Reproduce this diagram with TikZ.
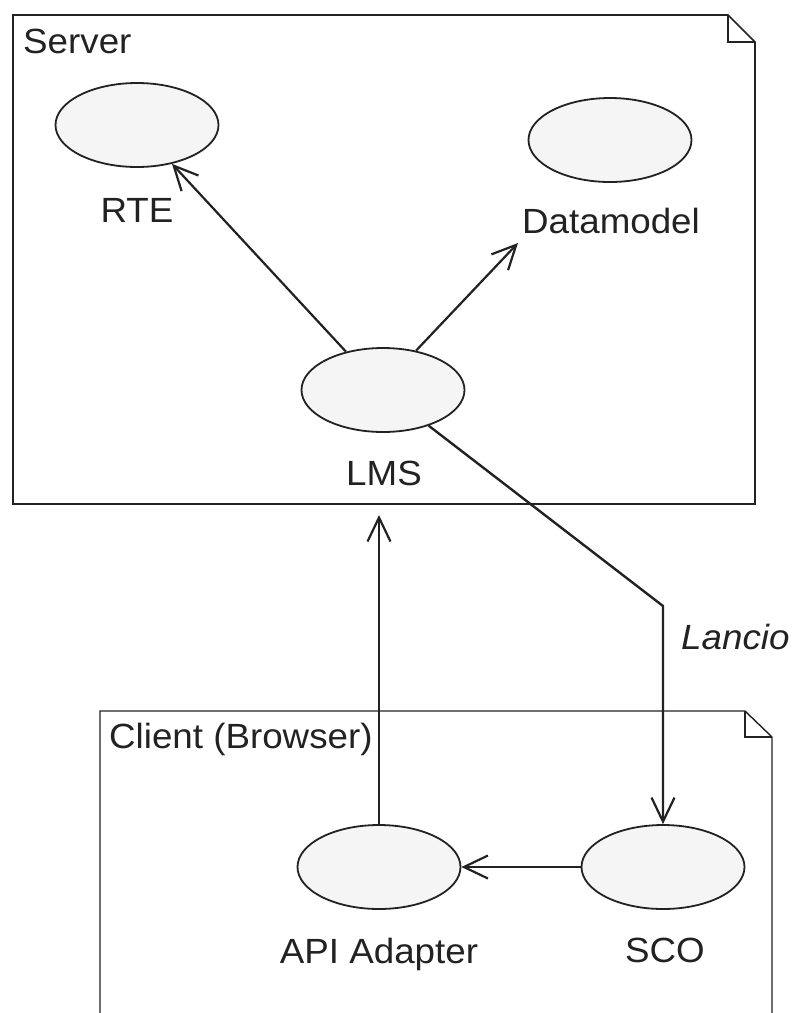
\documentclass[tikz,border=0pt]{standalone}
\usepackage{fontspec}
\setmainfont{Liberation Sans}[FakeStretch=1.05]
\usetikzlibrary{shapes.geometric,arrows.meta}

\definecolor{ink}{HTML}{222222}
\definecolor{usecase}{HTML}{F5F5F5}

\tikzset{
  pkgline/.style={draw=ink, line width=1.6pt, line join=miter},
  usecasenode/.style={ellipse, draw=ink, fill=usecase, line width=1.8pt,
    minimum width=163pt, minimum height=84pt, inner sep=0pt},
  caption/.style={text=ink, inner sep=0pt,
    font=\fontsize{35}{42}\selectfont},
  arr/.style={draw=ink, line width=2.2pt,
    -{Straight Barb[length=24pt, width=23pt, line width=2.2pt]}},
}

\begin{document}
\begin{tikzpicture}[x=1pt, y=-1pt]
  \useasboundingbox (0,0) rectangle (795,1013);

  % Server package with folded corner
  \draw[pkgline] (13,504) -- (13,15) -- (728,15) -- (755,42) -- (755,504);
  \draw[draw=ink, line width=2.8pt] (11.7,504) -- (756.3,504);
  \draw[pkgline, line width=1.3pt] (728,15) -- (728,42) -- (755,42);
  \node[caption, anchor=base west] (serverlbl) at (23,53) {Server};

  % Client package, running off the bottom edge
  \draw[pkgline, line width=1.4pt] (100,1015) -- (100,711) -- (745,711) -- (772,737) -- (772,1015);
  \draw[pkgline, line width=1.2pt] (745,711) -- (745,737) -- (772,737);
  \node[caption, anchor=base west] (clientlbl) at (109,748) {Client (Browser)};

  % Use cases
  \node[usecasenode] (rte) at (137,125) {};
  \node[caption, anchor=base] (rtelbl) at (137,222) {RTE};

  \node[usecasenode] (dm) at (610,140) {};
  \node[caption, anchor=base] (dmlbl) at (611,233) {Datamodel};

  \node[usecasenode] (lms) at (383,390) {};
  \node[caption, anchor=base] (lmslbl) at (384,485) {LMS};

  \node[usecasenode] (api) at (379,867) {};
  \node[caption, anchor=base] (apilbl) at (379,963) {API Adapter};

  \node[usecasenode] (sco) at (663,867) {};
  \node[caption, anchor=base] (scolbl) at (665,962) {SCO};

  % Free ends and bends of the connectors
  \coordinate (dmtip) at (518,243);
  \coordinate (lmsin) at (379,515);
  \coordinate (bend) at (663,606);

  % Connectors
  \draw[arr] (lms.134) -- (rte.-48);
  \draw[arr] (lms.50) -- (dmtip);
  \draw[arr, line width=1.4pt] (api.north) -- (lmsin);
  \draw[arr, line width=2.4pt] (lms.-38) -- (bend) -- (sco.north);
  \draw[arr, line width=2.4pt] (sco.west) -- (api.east);

  \node[caption, anchor=base west, font=\fontsize{35}{42}\selectfont\itshape] (lancio) at (681,649) {Lancio};
\end{tikzpicture}
\end{document}
